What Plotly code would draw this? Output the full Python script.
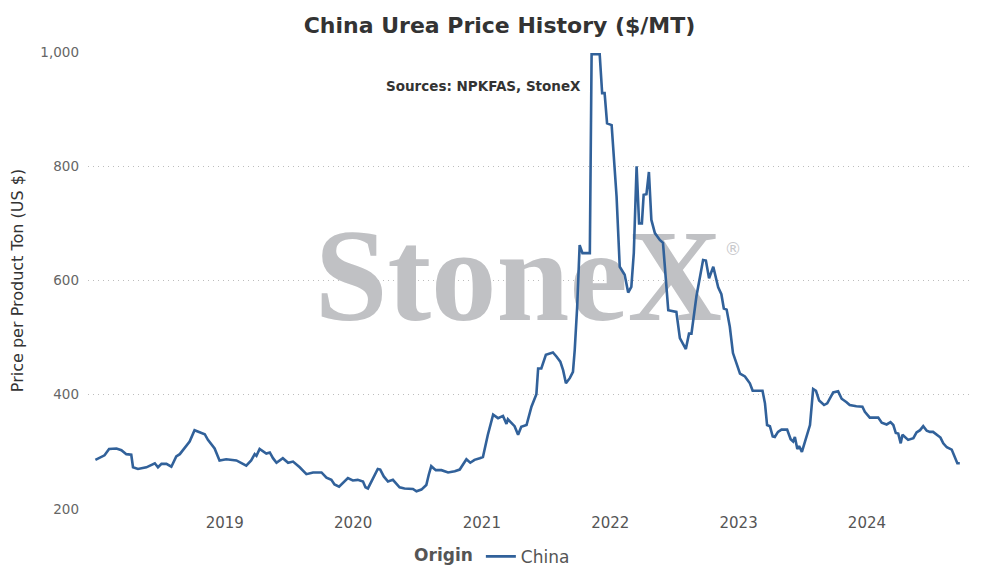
import plotly.graph_objects as go

# China urea price, $/MT
dates = [
    "2017-12-29", "2018-01-10", "2018-01-24", "2018-02-06", "2018-02-27", "2018-03-13",
    "2018-03-27", "2018-04-10", "2018-04-15", "2018-04-29", "2018-05-23", "2018-06-16",
    "2018-06-25", "2018-07-05", "2018-07-19", "2018-08-02", "2018-08-16", "2018-08-26",
    "2018-09-09", "2018-09-23", "2018-10-07", "2018-11-05", "2018-11-14", "2018-12-03",
    "2018-12-17", "2019-01-05", "2019-02-03", "2019-03-03", "2019-03-17", "2019-03-27",
    "2019-04-01", "2019-04-10", "2019-04-29", "2019-05-09", "2019-05-18", "2019-05-28",
    "2019-06-15", "2019-06-30", "2019-07-14", "2019-08-02", "2019-08-21", "2019-09-09",
    "2019-10-03", "2019-10-17", "2019-10-31", "2019-11-09", "2019-11-22", "2019-12-17",
    "2019-12-31", "2020-01-14", "2020-01-29", "2020-02-05", "2020-02-12", "2020-02-22",
    "2020-03-02", "2020-03-11", "2020-03-18", "2020-03-28", "2020-04-09", "2020-04-23",
    "2020-05-12", "2020-05-26", "2020-06-19", "2020-06-29", "2020-07-13", "2020-07-27",
    "2020-08-03", "2020-08-10", "2020-08-23", "2020-09-08", "2020-09-27", "2020-10-16",
    "2020-10-30", "2020-11-08", "2020-11-18", "2020-11-29", "2020-12-11", "2020-12-26",
    "2021-01-04", "2021-01-18", "2021-02-02", "2021-02-16", "2021-03-02", "2021-03-12",
    "2021-03-16", "2021-04-04", "2021-04-14", "2021-04-23", "2021-05-08", "2021-05-22",
    "2021-06-05", "2021-06-10", "2021-06-19", "2021-07-02", "2021-07-22", "2021-08-01",
    "2021-08-12", "2021-08-20", "2021-08-28", "2021-09-08", "2021-09-17", "2021-09-22",
    "2021-09-29", "2021-10-06", "2021-10-14", "2021-11-04", "2021-11-09", "2021-12-02",
    "2021-12-09", "2021-12-16", "2021-12-23", "2022-01-05", "2022-01-19", "2022-01-28",
    "2022-02-11", "2022-02-21", "2022-03-02", "2022-03-09", "2022-03-17", "2022-03-24",
    "2022-04-01", "2022-04-06", "2022-04-14", "2022-04-21", "2022-04-28", "2022-05-08",
    "2022-05-22", "2022-05-31", "2022-06-15", "2022-07-08", "2022-07-18", "2022-08-04",
    "2022-08-13", "2022-08-20", "2022-09-03", "2022-09-22", "2022-09-30", "2022-10-09",
    "2022-10-21", "2022-11-04", "2022-11-13", "2022-11-20", "2022-11-28", "2022-12-07",
    "2022-12-16", "2023-01-05", "2023-01-19", "2023-02-02", "2023-02-10", "2023-03-10",
    "2023-03-17", "2023-03-23", "2023-03-31", "2023-04-08", "2023-04-14", "2023-04-23",
    "2023-05-03", "2023-05-19", "2023-05-29", "2023-06-05", "2023-06-10", "2023-06-17",
    "2023-06-22", "2023-06-30", "2023-07-15", "2023-07-23", "2023-08-01", "2023-08-09",
    "2023-08-18", "2023-09-01", "2023-09-10", "2023-09-20", "2023-09-27", "2023-10-11",
    "2023-10-21", "2023-11-04", "2023-11-13", "2023-12-02", "2023-12-19", "2023-12-26",
    "2024-01-09", "2024-02-02", "2024-02-12", "2024-02-26", "2024-03-08", "2024-03-16",
    "2024-03-23", "2024-03-30", "2024-04-06", "2024-04-11", "2024-04-27", "2024-05-12",
    "2024-05-21", "2024-05-31", "2024-06-09", "2024-06-19", "2024-06-28", "2024-07-07",
    "2024-07-22", "2024-07-28", "2024-08-05", "2024-08-15", "2024-08-29", "2024-09-07",
    "2024-09-14", "2024-09-21",
]
price = [
    286, 290, 294, 305, 306, 303, 296, 295, 273, 270, 273, 280,
    273, 279, 279, 274, 292, 296, 308, 318, 338, 331, 321, 306,
    285, 287, 285, 276, 285, 296, 293, 305, 297, 299, 289, 281,
    289, 281, 283, 273, 261, 264, 264, 255, 251, 243, 239, 254,
    250, 251, 248, 238, 236, 248, 257, 270, 269, 257, 248, 251,
    238, 236, 235, 231, 234, 242, 260, 275, 268, 268, 264, 266,
    269, 277, 287, 281, 286, 289, 291, 330, 365, 359, 363, 349,
    357, 345, 330, 344, 347, 379, 401, 446, 446, 470, 474, 467,
    458, 443, 420, 429, 440, 478, 554, 662, 648, 648, 996, 996,
    928, 928, 875, 872, 747, 624, 610, 579, 589, 648, 800, 700,
    700, 750, 751, 790, 706, 683, 671, 666, 548, 545, 499, 480,
    507, 507, 572, 636, 635, 604, 624, 588, 576, 551, 549, 519,
    473, 437, 432, 420, 407, 407, 385, 347, 345, 327, 326, 335,
    339, 339, 322, 318, 326, 305, 310, 300, 330, 347, 410, 407,
    390, 382, 385, 396, 404, 406, 393, 387, 382, 380, 379, 370,
    360, 360, 351, 348, 352, 347, 333, 332, 315, 330, 321, 324,
    334, 338, 345, 337, 335, 335, 328, 325, 315, 308, 304, 292,
    280, 280,
]
year_ticks = ["2019-01-01", "2020-01-01", "2021-01-01", "2022-01-01", "2023-01-01", "2024-01-01"]
year_labels = ["2019", "2020", "2021", "2022", "2023", "2024"]

title = "China Urea Price History ($/MT)"
source = "Sources: NPKFAS, StoneX"
font = "DejaVu Sans, Verdana, sans-serif"

fig = go.Figure()

# watermark, drawn as a text trace so the line sits on top of it
fig.add_trace(go.Scatter(
    x=["2021-04-15"], y=[588], mode="text", text=["<b>StoneX</b>"],
    textfont=dict(family="Liberation Serif, Times New Roman, serif", size=131, color="#c0c1c4"),
    showlegend=False, hoverinfo="skip", cliponaxis=False,
))
fig.add_trace(go.Scatter(
    x=["2022-12-16"], y=[652], mode="text", text=["®"],
    textfont=dict(family="DejaVu Sans, sans-serif", size=17, color="#c8c9cc"),
    showlegend=False, hoverinfo="skip", cliponaxis=False,
))

fig.add_trace(go.Scatter(
    x=dates, y=price, mode="lines", name="China",
    line=dict(color="#31619a", width=2.6),
))

# page body has an 8px margin, so the figure is 8px smaller than the window
fig.update_layout(
    width=983, height=569,
    paper_bgcolor="white", plot_bgcolor="white",
    font=dict(family=font, color="#555"),
    margin=dict(l=80, r=21, t=44, b=68, autoexpand=False),
    title=dict(text="<b>" + title + "</b>", x=0.5, xref="container", xanchor="center",
               y=0.97, yanchor="middle", font=dict(size=22, color="#333", family=font)),
    showlegend=True,
    legend=dict(orientation="h", xref="container", x=0.494, xanchor="center",
                yref="container", y=0.0355, yanchor="middle",
                title=dict(text="<b>Origin</b>", font=dict(size=17, color="#555")),
                font=dict(size=17, color="#555")),
    annotations=[dict(text="<b>" + source + "</b>", xref="paper", yref="paper",
                      x=0.448, y=0.948, showarrow=False,
                      font=dict(size=13.5, color="#333", family=font))],
)
fig.update_xaxes(
    type="date", range=["2017-12-08", "2024-10-20"],
    tickvals=year_ticks, ticktext=year_labels,
    showgrid=False, zeroline=False, showline=False, ticks="", automargin=False,
    ticklabelstandoff=3,
    tickfont=dict(size=15, color="#555"),
)
fig.update_yaxes(
    range=[200, 1000], dtick=200, tickformat=",",
    showgrid=True, gridcolor="#bdbdbd", griddash="1px,4px", gridwidth=1,
    zeroline=False, showline=False, ticks="", ticklabelstandoff=8, automargin=False,
    tickfont=dict(size=13.5, color="#666"),
    title=dict(text="Price per Product Ton (US $)", standoff=14,
               font=dict(size=16, color="#333")),
)

fig.write_html("out.html")
